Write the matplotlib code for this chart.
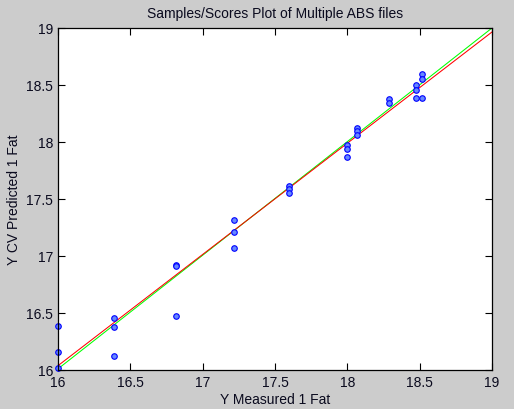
import numpy as np
from matplotlib import pyplot as plt

# measured vs cv predicted values
measured = [16.0, 16.0, 16.0,
            16.39, 16.39, 16.39,
            16.815, 16.815, 16.815,
            17.216, 17.216, 17.216,
            17.6, 17.6, 17.6,
            18.0, 18.0, 18.0,
            18.07, 18.07, 18.07,
            18.29, 18.29,
            18.476, 18.476, 18.476,
            18.518, 18.518, 18.518]
predicted = [16.39, 16.16, 16.02,
             16.46, 16.377, 16.12,
             16.92, 16.91, 16.47,
             17.32, 17.21, 17.07,
             17.61, 17.59, 17.553,
             17.97, 17.94, 17.87,
             18.12, 18.10, 18.064,
             18.38, 18.34,
             18.497, 18.46, 18.39,
             18.60, 18.55, 18.39]

# fitted line (red) and ideal line (green), end points
fit_x = [16.0, 19.0]
fit_y = [16.038, 18.965]
ideal_x = [16.0, 19.0]
ideal_y = [16.01, 19.0]

plt.rcParams['font.family'] = ['Liberation Sans', 'DejaVu Sans']
plt.rcParams['font.size'] = 10

fig = plt.figure(figsize=(5.14, 4.10), dpi=100, facecolor='#cccccc')
ax = fig.add_axes([58/514, 39/410, 434/514, 342/410])
ax.set_facecolor('white')

ax.plot(ideal_x, ideal_y, color='#00ff00', lw=0.75)
ax.plot(fit_x, fit_y, color='#ff0000', lw=0.75)
ax.plot(measured, predicted, 'o', markersize=4.0, markerfacecolor='#6688ff',
        markeredgecolor='#0000ff', markeredgewidth=0.8, linestyle='none', clip_on=False)

ax.set_xlim(16, 19)
ax.set_ylim(16, 19)
ax.set_xticks(np.arange(16, 19.01, 0.5))
ax.set_yticks(np.arange(16, 19.01, 0.5))
ax.set_xticklabels(['16', '16.5', '17', '17.5', '18', '18.5', '19'])
ax.set_yticklabels(['16', '16.5', '17', '17.5', '18', '18.5', '19'])
ax.tick_params(direction='in', top=True, right=True, length=5, width=0.8,
               colors='black', labelcolor='#0a0a1e')
for s in ax.spines.values():
    s.set_linewidth(0.9)

ax.set_xlabel('Y Measured 1 Fat', labelpad=2, color='#0a0a1e')
ax.set_ylabel('Y CV Predicted 1 Fat', labelpad=4, color='#0a0a1e')
ax.set_title('Samples/Scores Plot of Multiple ABS files', fontsize=10, pad=8, color='#0a0a1e')

fig.savefig('out.png', dpi=100, facecolor=fig.get_facecolor())
